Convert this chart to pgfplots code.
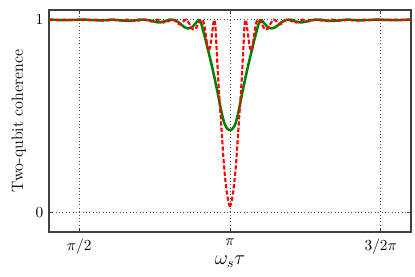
\documentclass[border=0pt]{standalone}
\usepackage{pgfplots}
\pgfplotsset{compat=1.18}
\usepackage{pgfplotstable}
\definecolor{mplgreen}{rgb}{0,0.5,0}
\pgfplotstableread{
dx red green
0 0.03 0.427
0.005 0.055 0.430
0.01 0.10 0.437
0.015 0.165 0.45
0.02 0.25 0.47
0.025 0.36 0.50
0.03 0.48 0.535
0.035 0.59 0.575
0.04 0.72 0.615
0.045 0.87 0.652
0.0475 0.95 0.67
0.05 0.99 0.69
0.0525 0.998 0.707
0.055 0.98 0.725
0.06 0.92 0.76
0.065 0.865 0.793
0.07 0.84 0.825
0.075 0.86 0.857
0.08 0.92 0.89
0.085 0.97 0.92
0.09 0.995 0.95
0.095 1.0 0.978
0.1 0.995 0.995
0.105 0.98 0.997
0.11 0.963 0.988
0.115 0.952 0.978
0.12 0.948 0.97
0.125 0.952 0.962
0.13 0.965 0.958
0.135 0.98 0.955
0.14 0.993 0.955
0.145 1.0 0.957
0.15 0.997 0.96
0.155 0.99 0.966
0.16 0.98 0.972
0.165 0.975 0.978
0.17 0.977 0.985
0.175 0.985 0.99
0.18 0.993 0.995
0.19 1.0 0.999
0.2 0.995 1.0
0.21 0.987 0.995
0.22 0.985 0.989
0.23 0.992 0.986
0.24 1.0 0.986
0.25 0.995 0.989
0.26 0.99 0.994
0.27 0.993 0.997
0.28 0.999 0.999
0.29 1.0 1.0
0.3 0.996 1.0
0.315 0.992 0.996
0.33 0.998 0.993
0.34 1.0 0.993
0.355 0.995 0.995
0.375 0.995 0.998
0.39 1.0 1.0
0.405 0.996 0.998
0.425 0.996 0.996
0.44 1.0 0.996
0.46 0.997 0.998
0.49 1.0 1.0
0.51 0.997 0.999
0.54 1.0 0.997
0.57 0.998 0.998
0.6 1.0 1.0
}\coh
\begin{document}
\begin{tikzpicture}
\begin{axis}[
  name=ax,
  scale only axis,
  width=258.6pt, height=158.6pt,
  xmin=0.4, xmax=1.6, ymin=-0.1, ymax=1.05,
  xtick={0.5,1,1.5},
  xticklabels={$\pi/2$,$\pi$,$3/2\pi$},
  ytick={0,1},
  grid=major,
  major grid style={dotted, black!70, line width=0.6pt},
  axis line style={black!75, line width=1pt},
  tick style={black!75, line width=0.6pt},
  tick align=inside,
  major tick length=3pt,
  tick label style={font=\fontsize{11}{13}\selectfont},
  xticklabel style={yshift=-1.5pt},
  yticklabel style={xshift=-0.5pt},
  xlabel={$\omega_s\tau$},
  ylabel={Two-qubit coherence},
  xlabel style={font=\fontsize{14}{16}\selectfont, at={(axis description cs:0.5,-0.135)}, anchor=center},
  ylabel style={font=\fontsize{11.5}{13}\selectfont, at={(axis description cs:-0.0835,0.5)}, anchor=center},
]
\addplot[mplgreen, line width=1.8pt, smooth, tension=0.5] table[x expr=1-\thisrow{dx}, y=green] {\coh};
\addplot[mplgreen, line width=1.8pt, smooth, tension=0.5] table[x expr=1+\thisrow{dx}, y=green] {\coh};
\addplot[red, line width=1.5pt, dash pattern=on 3pt off 1.5pt, smooth, tension=0.5] table[x expr=1-\thisrow{dx}, y=red] {\coh};
\addplot[red, line width=1.5pt, dash pattern=on 3pt off 1.5pt, smooth, tension=0.5] table[x expr=1+\thisrow{dx}, y=red] {\coh};
\end{axis}
\pgfresetboundingbox
\path[use as bounding box] ([xshift=-35pt,yshift=-32.1pt]ax.south west) rectangle ([xshift=2.9pt,yshift=7.1pt]ax.north east);
\end{tikzpicture}
\end{document}
